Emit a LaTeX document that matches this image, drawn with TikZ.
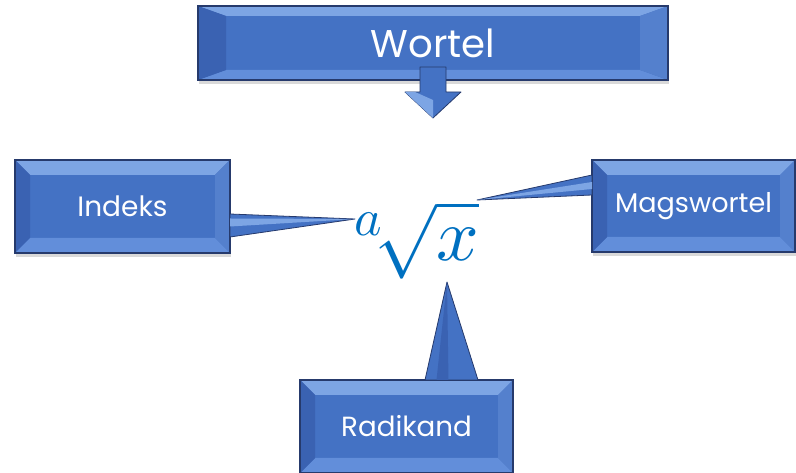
\documentclass[tikz,border=0pt]{standalone}
\usepackage{fontspec}
\usepackage{unicode-math}
\setmainfont{Poppins}
\setmathfont{Latin Modern Math}
\usetikzlibrary{calc, shadows}
\definecolor{wblue}{RGB}{68, 114, 196}
\definecolor{wtop}{RGB}{125, 165, 228}
\definecolor{wbottom}{RGB}{98, 142, 218}
\definecolor{wleft}{RGB}{58, 98, 178}
\definecolor{wright}{RGB}{84, 128, 205}
\definecolor{wdark}{RGB}{38, 58, 108}
\definecolor{wmath}{RGB}{0, 112, 192}

\tikzset{
    bevbox/.style={fill=wblue, draw=wdark, line width=0.8pt, outer sep=0pt,
        text=white, drop shadow={opacity=0.3, shadow xshift=1pt, shadow yshift=-3pt}},
    tail/.style={fill=wblue, draw=wdark, line width=0.6pt, line join=round},
}

\begin{document}
\begin{tikzpicture}[x=0.75pt, y=-0.75pt]
\useasboundingbox (0,0) rectangle (796,473);

% === Cajas ===
\node[bevbox, minimum width=352.5pt, minimum height=55.5pt, font=\fontsize{29}{32}\selectfont]
    (wortel) at (433, 43) {Wortel};
\node[bevbox, minimum width=161.25pt, minimum height=69.75pt, font=\fontsize{21}{24}\selectfont]
    (indeks) at (122.5, 206.5) {Indeks};
\node[bevbox, minimum width=152.25pt, minimum height=69pt, font=\fontsize{20.3}{24}\selectfont]
    (mags) at (693.5, 206) {Magswortel};
\node[bevbox, minimum width=159.75pt, minimum height=69.75pt, font=\fontsize{20.8}{24}\selectfont]
    (radi) at (406.5, 426.5) {Radikand};

% Biseles
\foreach \b/\dx/\dy in {wortel/28/10, indeks/15/15, mags/15/15, radi/15/15} {
    \fill[wtop] (\b.north west) -- (\b.north east) -- ($(\b.north east)+(-\dx,\dy)$) -- ($(\b.north west)+(\dx,\dy)$) -- cycle;
    \fill[wbottom] (\b.south west) -- (\b.south east) -- ($(\b.south east)+(-\dx,-\dy)$) -- ($(\b.south west)+(\dx,-\dy)$) -- cycle;
    \fill[wleft] (\b.north west) -- (\b.south west) -- ($(\b.south west)+(\dx,-\dy)$) -- ($(\b.north west)+(\dx,\dy)$) -- cycle;
    \fill[wright] (\b.north east) -- (\b.south east) -- ($(\b.south east)+(-\dx,-\dy)$) -- ($(\b.north east)+(-\dx,\dy)$) -- cycle;
    \draw[wdark, line width=0.8pt] (\b.north west) rectangle (\b.south east);
}

% === Raiz ===
\node[text=wmath, inner sep=0pt, font=\fontsize{56}{60}\selectfont]
    (rad) at (415, 240) {$\sqrt[\scriptstyle a]{x}$};

\coordinate (tipI) at (355, 219);
\coordinate (tipM) at (477, 200);
\coordinate (tipR) at (447, 282);

% Colas de las llamadas
\draw[tail] ($(indeks.east)+(0,7.5)$) -- (tipI) -- ($(indeks.east)+(0,30.5)$) -- cycle;
\fill[wtop] ($(indeks.east)+(0,12)$) -- (tipI) -- ($(indeks.east)+(0,20)$) -- cycle;
\draw[tail] ($(mags.west)+(0,-31)$) -- (tipM) -- ($(mags.west)+(0,-11)$) -- cycle;
\fill[wtop] ($(mags.west)+(0,-24)$) -- (tipM) -- ($(mags.west)+(0,-17)$) -- cycle;
\draw[tail] ($(radi.north)+(18.5,0)$) -- (tipR) -- ($(radi.north)+(71.5,0)$) -- cycle;
\fill[wleft] ($(radi.north)+(30,0)$) -- (tipR) -- ($(radi.north)+(42,0)$) -- cycle;

% Flecha hacia abajo
\draw[tail] ($(wortel.south)+(-13,-13)$) -- ($(wortel.south)+(-13,12)$) -- ($(wortel.south)+(-28,12)$)
    -- ($(wortel.south)+(0,38)$) -- ($(wortel.south)+(28,12)$) -- ($(wortel.south)+(13,12)$)
    -- ($(wortel.south)+(13,-13)$) -- cycle;
\fill[wtop] ($(wortel.south)+(-28,12)$) -- ($(wortel.south)+(0,38)$) -- ($(wortel.south)+(0,20)$) -- ($(wortel.south)+(-18,12)$) -- cycle;

\end{tikzpicture}
\end{document}
